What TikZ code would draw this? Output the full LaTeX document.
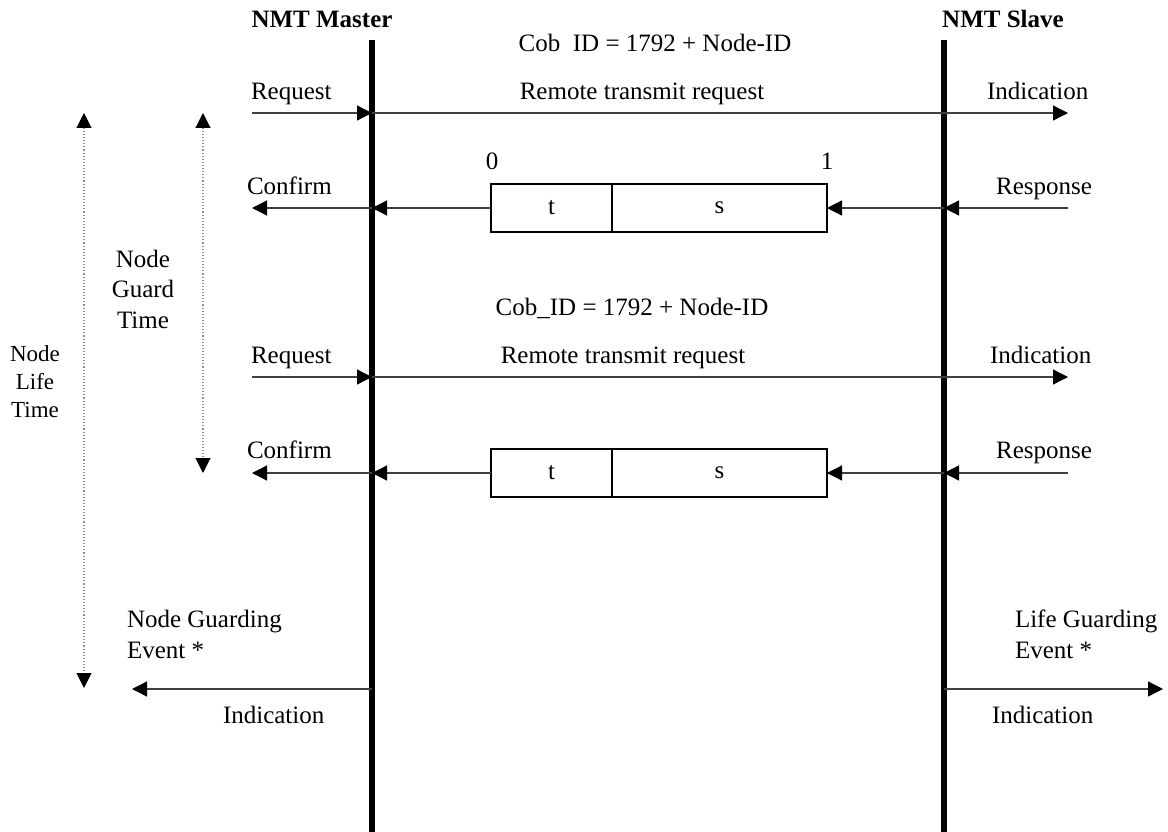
\documentclass[tikz,border=0pt]{standalone}
\usepackage{fontspec}
\setmainfont{Liberation Serif}
\usetikzlibrary{arrows.meta}
\tikzset{
  lbl/.style={inner sep=0pt, outer sep=0pt, font=\fontsize{25}{30.5}\selectfont},
  title/.style={lbl, font=\fontsize{25}{30}\selectfont\bfseries},
  lifeline/.style={line width=6pt, black},
  msg/.style={line width=1.3pt, black!75, -{Triangle[length=15pt,width=15pt,color=black]}},
  plainmsg/.style={line width=1.3pt, black!75},
  span/.style={line width=1.1pt, black!45, dotted, {Triangle[length=15pt,width=15pt,color=black]}-{Triangle[length=15pt,width=15pt,color=black]}},
  field/.style={draw=black, line width=1.3pt, inner sep=0pt, outer sep=0pt, minimum height=48pt, font=\fontsize{25}{30}\selectfont}
}
\begin{document}
\begin{tikzpicture}[x=1pt,y=-1pt]
\useasboundingbox (0,0) rectangle (1168,832);
% lifelines
\coordinate (mtop) at (372,40);
\coordinate (mbot) at (372,832);
\coordinate (stop) at (944,40);
\coordinate (sbot) at (944,832);
\draw[lifeline] (mtop) -- (mbot);
\draw[lifeline] (stop) -- (sbot);
\node[title, anchor=base] (tm) at (322,28) {NMT Master};
\node[title, anchor=base] (ts) at (1003,28) {NMT Slave};

% row 1
\node[lbl, anchor=base] (cob1) at (655,52) {Cob\ \ ID = 1792 + Node-ID};
\node[lbl, anchor=base west] (req1) at (251,100) {Request};
\node[lbl, anchor=base] (rtr1) at (642,100) {Remote transmit request};
\node[lbl, anchor=base west] (ind1) at (987,100) {Indication};
\coordinate (r1a) at (252,113);
\coordinate (r1m) at (372,113);
\coordinate (r1e) at (1068,113);
\draw[msg] (r1a) -- (r1m);
\draw[msg] (r1m) -- (r1e);

% row 2
\node[field, minimum width=121pt] (t1) at (551.5,208) {t};
\node[field, minimum width=215pt] (s1) at (719.5,208) {s};
\node[lbl, anchor=base] (zero) at (492,170) {0};
\node[lbl, anchor=base] (one) at (827,170) {1};
\node[lbl, anchor=base west] (conf1) at (247,195) {Confirm};
\node[lbl, anchor=base east] (resp1) at (1092,195) {Response};
\coordinate (r2a) at (252,208);
\coordinate (r2m) at (372,208);
\coordinate (r2s) at (944,208);
\coordinate (r2e) at (1068,208);
\draw[msg] (r2e) -- (r2s);
\draw[msg] (r2s) -- (s1.east);
\draw[msg] (t1.west) -- (r2m);
\draw[msg] (r2m) -- (r2a);

% row 3/4
\node[lbl, anchor=base] (cob2) at (632,315) {Cob\_ID = 1792 + Node-ID};
\node[lbl, anchor=base west] (req2) at (251,363) {Request};
\node[lbl, anchor=base] (rtr2) at (623,363) {Remote transmit request};
\node[lbl, anchor=base west] (ind2) at (990,363) {Indication};
\coordinate (r4a) at (252,377);
\coordinate (r4m) at (372,377);
\coordinate (r4e) at (1068,377);
\draw[msg] (r4a) -- (r4m);
\draw[msg] (r4m) -- (r4e);

% row 5
\node[field, minimum width=121pt] (t2) at (551.5,473) {t};
\node[field, minimum width=215pt] (s2) at (719.5,473) {s};
\node[lbl, anchor=base west] (conf2) at (247,458) {Confirm};
\node[lbl, anchor=base east] (resp2) at (1092,458) {Response};
\coordinate (r5a) at (252,473);
\coordinate (r5m) at (372,473);
\coordinate (r5s) at (944,473);
\coordinate (r5e) at (1068,473);
\draw[msg] (r5e) -- (r5s);
\draw[msg] (r5s) -- (s2.east);
\draw[msg] (t2.west) -- (r5m);
\draw[msg] (r5m) -- (r5a);

% time spans
\coordinate (lt1) at (84,113);
\coordinate (lt2) at (84,688);
\coordinate (gt1) at (203,113);
\coordinate (gt2) at (203,473);
\draw[span] (lt1) -- (lt2);
\draw[span] (gt1) -- (gt2);
\node[lbl, anchor=north, align=center, font=\fontsize{25}{30.5}\selectfont] (ngt) at (143,250) {Node\\Guard\\Time};
\node[lbl, anchor=north, align=center, font=\fontsize{23}{28}\selectfont] (nlt) at (35,346) {Node\\Life\\Time};

% guarding events
\node[lbl, anchor=north west, align=left, font=\fontsize{25}{31}\selectfont] (nge) at (127,610) {Node Guarding\\Event *};
\node[lbl, anchor=north west, align=left, font=\fontsize{25}{31}\selectfont] (lge) at (1015,610) {Life Guarding\\Event *};
\coordinate (ev1m) at (372,689);
\coordinate (ev1a) at (132,689);
\coordinate (ev2s) at (944,689);
\coordinate (ev2e) at (1163,689);
\draw[msg] (ev1m) -- (ev1a);
\draw[msg] (ev2s) -- (ev2e);
\node[lbl, anchor=base west] (ind3) at (223,723) {Indication};
\node[lbl, anchor=base west] (ind4) at (992,723) {Indication};
\end{tikzpicture}
\end{document}
